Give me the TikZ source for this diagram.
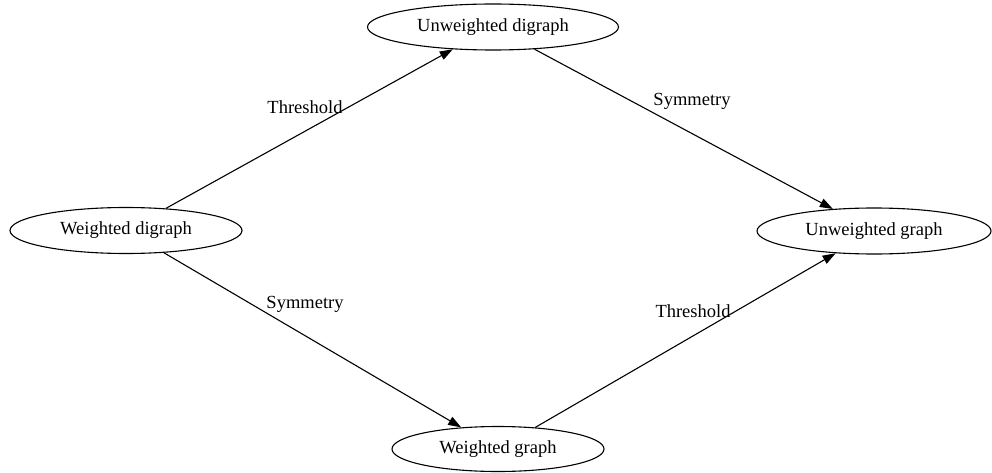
\documentclass[tikz,border=0pt]{standalone}
\usepackage{fontspec}
\setmainfont{Liberation Serif}
\usetikzlibrary{shapes.geometric,arrows.meta}
\begin{document}
\begin{tikzpicture}[x=1pt,y=-1pt,
  gnode/.style={ellipse,draw,line width=1.1pt,inner sep=0pt,font=\fontsize{18.5}{20}\selectfont},
  gedge/.style={line width=1.1pt,-{Triangle[length=13pt,width=9pt]}},
  glabel/.style={font=\fontsize{18.5}{20}\selectfont,inner sep=0pt}]
\useasboundingbox (0,0) rectangle (992,473);
\node[gnode,minimum width=232pt,minimum height=46pt] (wd) at (126,230.5) {Weighted digraph};
\node[gnode,minimum width=251pt,minimum height=46pt] (ud) at (493,27) {Unweighted digraph};
\node[gnode,minimum width=212pt,minimum height=45pt] (wg) at (498,449) {Weighted graph};
\node[gnode,minimum width=234pt,minimum height=46pt] (ug) at (874,231) {Unweighted graph};
\draw[gedge] (wd) -- (ud);
\draw[gedge] (ud) -- (ug);
\draw[gedge] (wd) -- (wg);
\draw[gedge] (wg) -- (ug);
\node[glabel] (l1) at (305,107) {Threshold};
\node[glabel] (l2) at (692,101) {Symmetry};
\node[glabel] (l3) at (305,304) {Symmetry};
\node[glabel] (l4) at (693,311) {Threshold};
\end{tikzpicture}
\end{document}
